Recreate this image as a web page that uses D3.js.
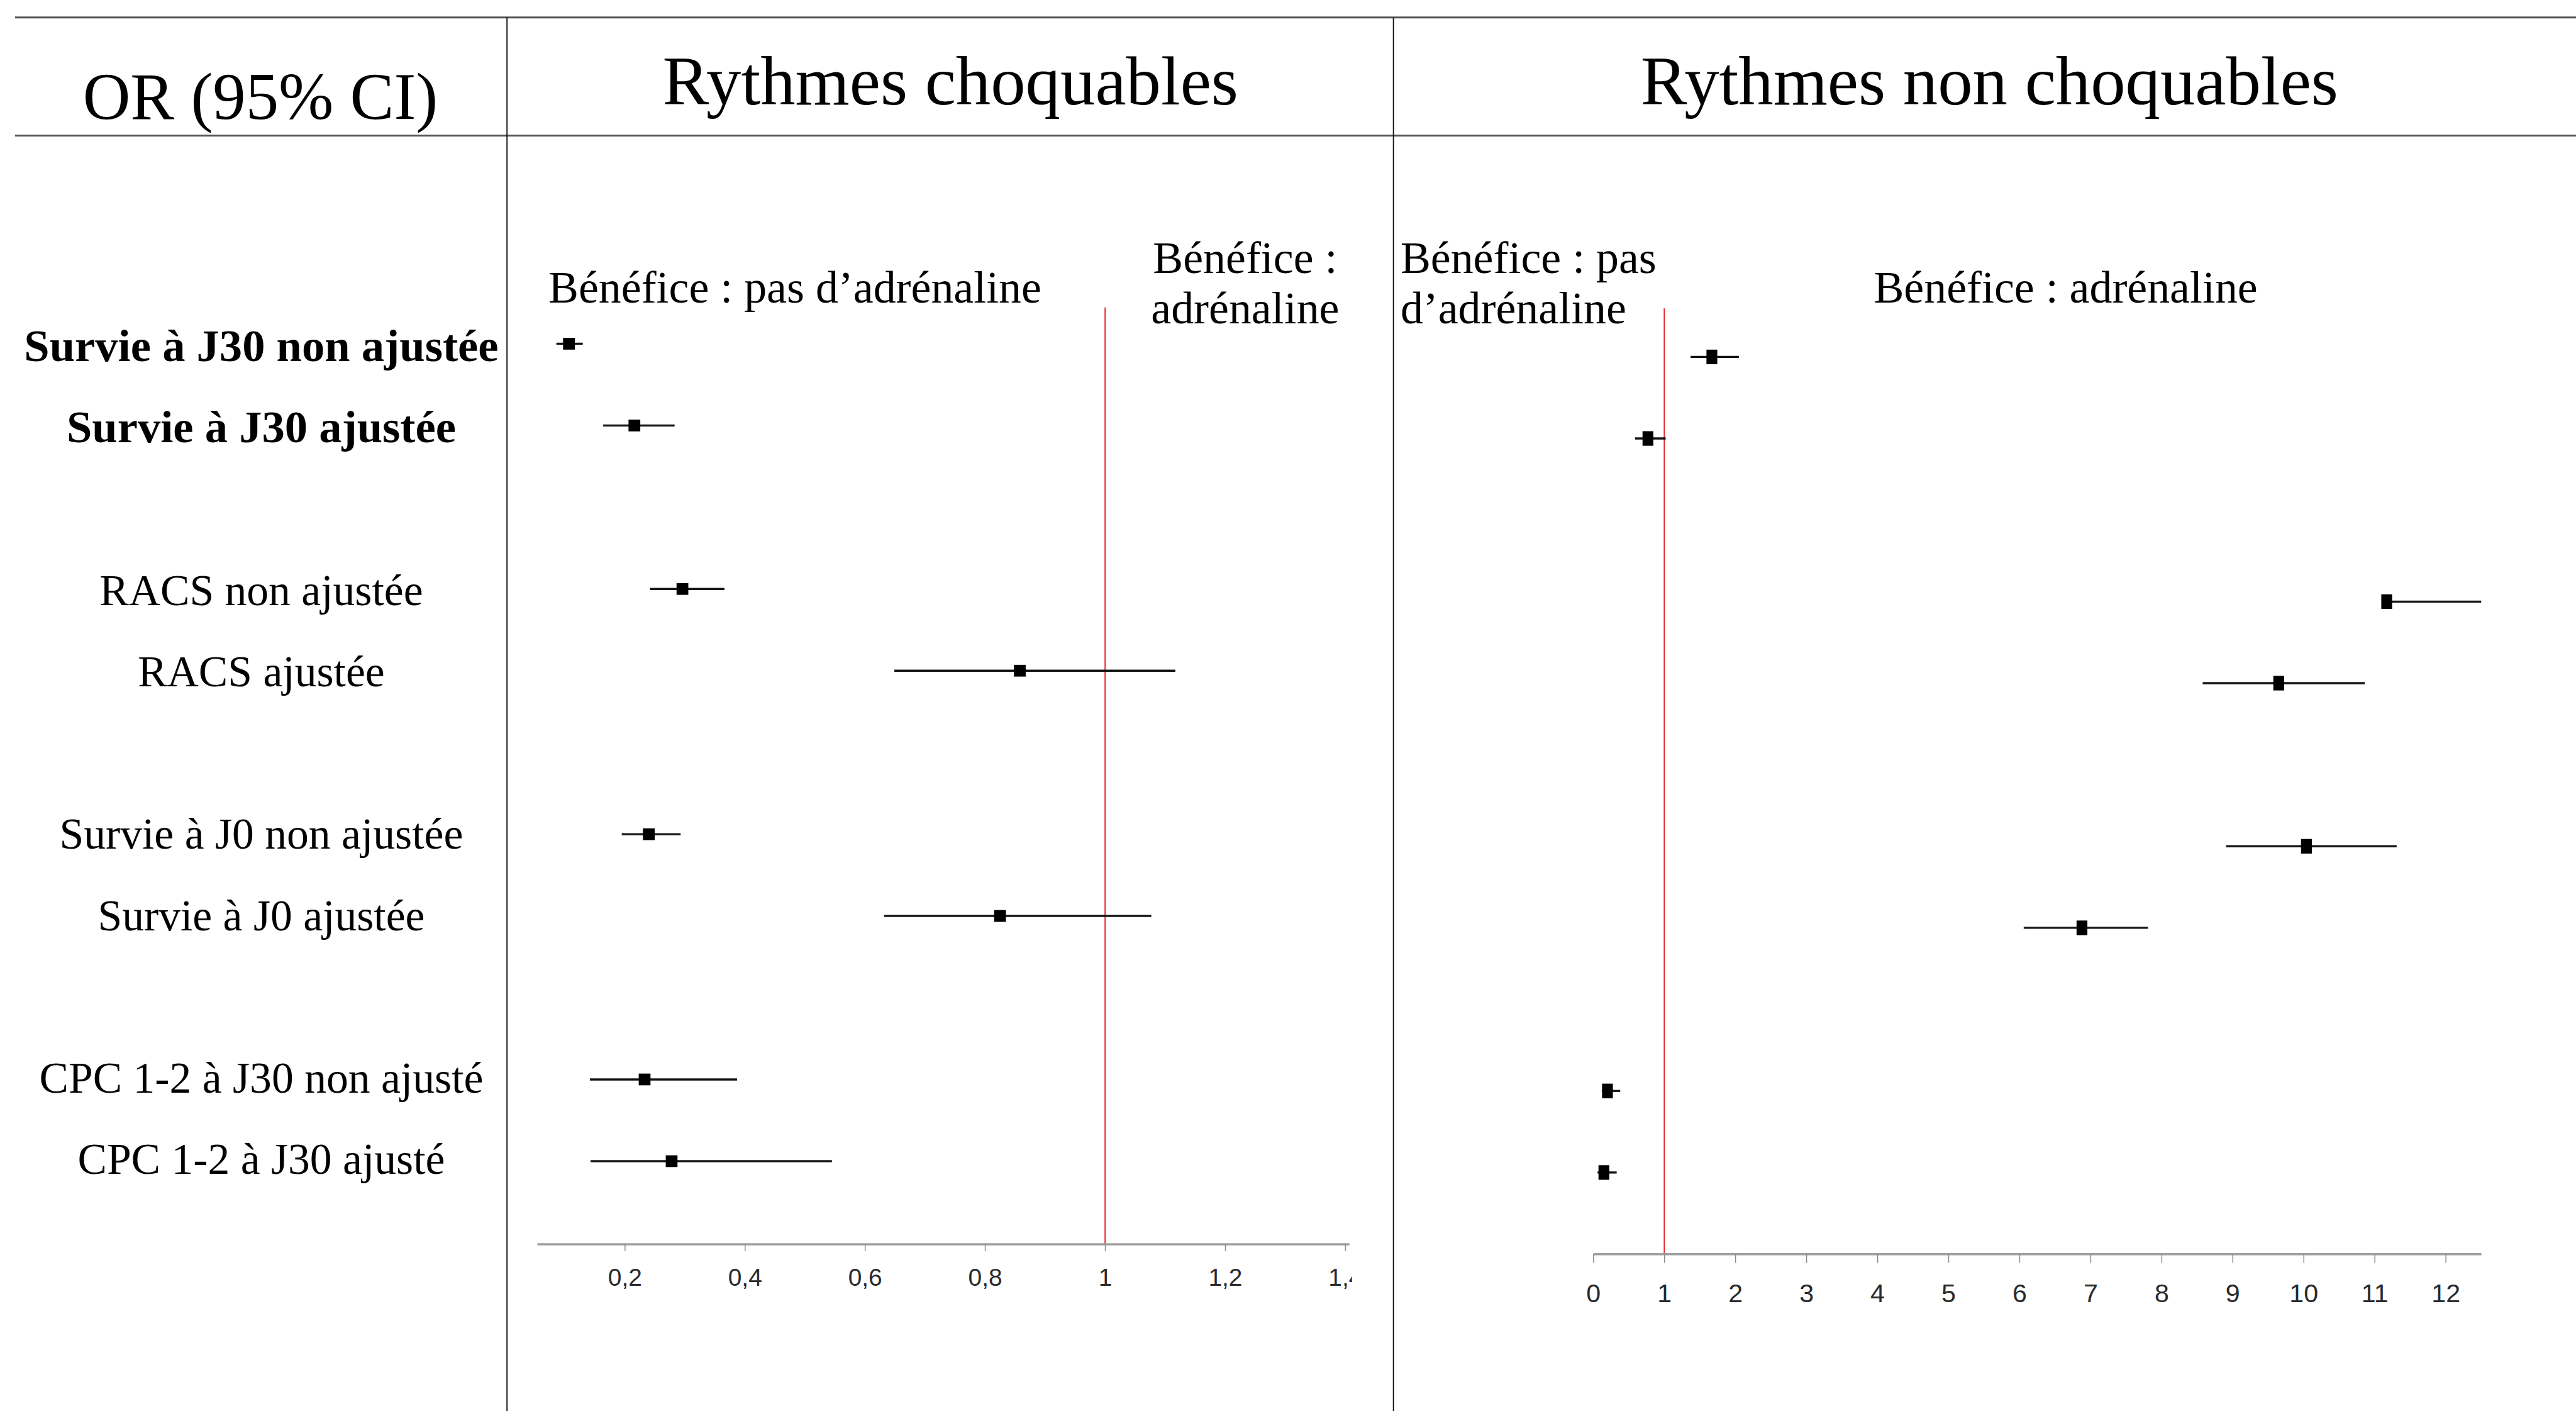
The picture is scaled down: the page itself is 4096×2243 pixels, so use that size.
<!DOCTYPE html>
<html>
<head>
<meta charset="utf-8">
<script src="https://cdn.jsdelivr.net/npm/d3@7"></script>
<style>
  html, body { margin: 0; padding: 0; background: #fff; }
  svg { display: block; }
</style>
</head>
<body>
<div id="chart"></div>
<script>
// row labels, grouped by outcome (a blank slot separates the groups)
const rowGroups = [
  ["Survie à J30 non ajustée", "Survie à J30 ajustée"],
  ["RACS non ajustée", "RACS ajustée"],
  ["Survie à J0 non ajustée", "Survie à J0 ajustée"],
  ["CPC 1-2 à J30 non ajusté", "CPC 1-2 à J30 ajusté"]
];

// Rythmes choquables : OR and 95% CI
const shockOR = [0.107, 0.216, 0.296, 0.858, 0.240, 0.825, 0.233, 0.278];
const shockLo = [0.086, 0.164, 0.242, 0.649, 0.195, 0.632, 0.142, 0.143];
const shockHi = [0.130, 0.283, 0.366, 1.117, 0.293, 1.077, 0.387, 0.545];
const shockTicks = [0.2, 0.4, 0.6, 0.8, 1, 1.2, 1.4];

// Rythmes non choquables : OR and 95% CI
const nonShockOR = [1.67, 0.77, 11.17, 9.65, 10.04, 6.88, 0.20, 0.15];
const nonShockLo = [1.37, 0.59, 11.10, 8.58, 8.91, 6.06, 0.12, 0.06];
const nonShockHi = [2.05, 1.02, 12.50, 10.86, 11.31, 7.81, 0.38, 0.33];
const nonShockTicks = [0, 1, 2, 3, 4, 5, 6, 7, 8, 9, 10, 11, 12];

const W = 4096, H = 2243;
const k = W / 5472; // everything below is laid out in reference pixels

const serif = "'Liberation Serif', 'Times New Roman', serif";
const sans = "'Liberation Sans Narrow', 'Liberation Sans', Arial, sans-serif";

const rows = [];
rowGroups.forEach((g, gi) => g.forEach((label, i) => {
  rows.push({ label, slot: gi * 3 + i, bold: gi === 0 });
}));

const svg = d3.select("#chart").append("svg")
  .attr("width", W)
  .attr("height", H);

svg.append("rect").attr("width", W).attr("height", H).attr("fill", "#fff");

const root = svg.append("g").attr("transform", `scale(${k})`);

// table frame
root.selectAll("line.hrule")
  .data([37, 288])
  .enter()
  .append("line")
  .attr("x1", 32).attr("x2", 5472)
  .attr("y1", d => d).attr("y2", d => d)
  .attr("stroke", "#555")
  .attr("stroke-width", 4);

root.selectAll("line.vrule")
  .data([1077, 2960])
  .enter()
  .append("line")
  .attr("x1", d => d).attr("x2", d => d)
  .attr("y1", 37).attr("y2", 2997)
  .attr("stroke", "#111")
  .attr("stroke-width", 2.5);

// headers
root.append("text")
  .attr("x", 553).attr("y", 252)
  .attr("text-anchor", "middle")
  .style("font-family", serif).style("font-size", "140px")
  .text("OR (95% CI)");

root.append("text")
  .attr("x", 2019).attr("y", 222)
  .attr("text-anchor", "middle")
  .style("font-family", serif).style("font-size", "148px")
  .text("Rythmes choquables");

root.append("text")
  .attr("x", 4226).attr("y", 222)
  .attr("text-anchor", "middle")
  .style("font-family", serif).style("font-size", "148px")
  .text("Rythmes non choquables");

// row labels
const yLabel = d3.scaleLinear().domain([0, 10]).range([767, 2493]);

root.selectAll("text.rowlabel")
  .data(rows)
  .enter()
  .append("text")
  .attr("x", 555)
  .attr("y", d => yLabel(d.slot))
  .attr("text-anchor", "middle")
  .style("font-family", serif)
  .style("font-size", d => d.bold ? "97px" : "93px")
  .style("font-weight", d => d.bold ? "bold" : "normal")
  .text(d => d.label);

function forest(opts) {
  const g = root.append("g");
  if (opts.clip) {
    root.append("clipPath").attr("id", opts.id)
      .append("rect")
      .attr("x", opts.clip[0]).attr("y", 0)
      .attr("width", opts.clip[1] - opts.clip[0]).attr("height", 2997);
    g.attr("clip-path", `url(#${opts.id})`);
  }

  const x = d3.scaleLinear().domain(opts.domain).range(opts.range);
  const y = d3.scaleLinear().domain([0, 10]).range(opts.yRange);

  // reference line at OR = 1
  g.append("line")
    .attr("x1", x(1)).attr("x2", x(1))
    .attr("y1", opts.redTop).attr("y2", opts.axisY)
    .attr("stroke", "#e8202a")
    .attr("stroke-width", 2.5);

  const axis = g.append("g")
    .attr("transform", `translate(0,${opts.axisY})`)
    .call(d3.axisBottom(x)
      .tickValues(opts.ticks)
      .tickSize(opts.tickSize)
      .tickSizeOuter(0)
      .tickPadding(opts.tickPadding)
      .tickFormat(d => String(d).replace(".", ",")));

  axis.select(".domain")
    .attr("stroke", "#a0a0a0")
    .attr("stroke-width", 4.5);
  axis.selectAll(".tick line")
    .attr("stroke", "#8a8a8a")
    .attr("stroke-width", 2);
  axis.selectAll(".tick text")
    .attr("fill", "#2a2a2a")
    .style("font-family", sans)
    .style("font-size", opts.tickFont + "px");

  const pts = rows.map((r, i) => ({
    slot: r.slot, or: opts.or[i], lo: opts.lo[i], hi: opts.hi[i]
  }));

  g.selectAll("line.ci")
    .data(pts)
    .enter()
    .append("line")
    .attr("x1", d => x(d.lo)).attr("x2", d => x(d.hi))
    .attr("y1", d => y(d.slot)).attr("y2", d => y(d.slot))
    .attr("stroke", "#151515")
    .attr("stroke-width", 4.5);

  g.selectAll("rect.pt")
    .data(pts)
    .enter()
    .append("rect")
    .attr("x", d => x(d.or) - opts.mw / 2)
    .attr("y", d => y(d.slot) - opts.mh / 2)
    .attr("width", opts.mw)
    .attr("height", opts.mh)
    .attr("fill", "#000");

  return x;
}

forest({
  id: "clipShock",
  clip: [1100, 2872],
  domain: [0.054, 1.4066], range: [1141, 2866],
  yRange: [730, 2466],
  axisY: 2642, redTop: 653,
  ticks: shockTicks, tickSize: 15, tickPadding: 37, tickFont: 52,
  or: shockOR, lo: shockLo, hi: shockHi,
  mw: 25, mh: 25
});

forest({
  id: "clipNonShock",
  domain: [0, 12.5], range: [3384.4, 5270.6],
  yRange: [758, 2490],
  axisY: 2663, redTop: 655,
  ticks: nonShockTicks, tickSize: 19, tickPadding: 44, tickFont: 55,
  or: nonShockOR, lo: nonShockLo, hi: nonShockHi,
  mw: 23, mh: 31
});

// direction annotations
function note(x, y, lines, anchor) {
  const t = root.append("text")
    .attr("x", x).attr("y", y)
    .attr("text-anchor", anchor)
    .style("font-family", serif)
    .style("font-size", "96px");
  lines.forEach((s, i) => {
    t.append("tspan").attr("x", x).attr("dy", i === 0 ? 0 : 107).text(s);
  });
}

note(1165, 642, ["Bénéfice : pas d\u2019adrénaline"], "start");
note(2645, 580, ["Bénéfice :", "adrénaline"], "middle");
note(2975, 580, ["Bénéfice : pas", "d\u2019adrénaline"], "start");
note(4388, 642, ["Bénéfice : adrénaline"], "middle");
</script>
</body>
</html>
